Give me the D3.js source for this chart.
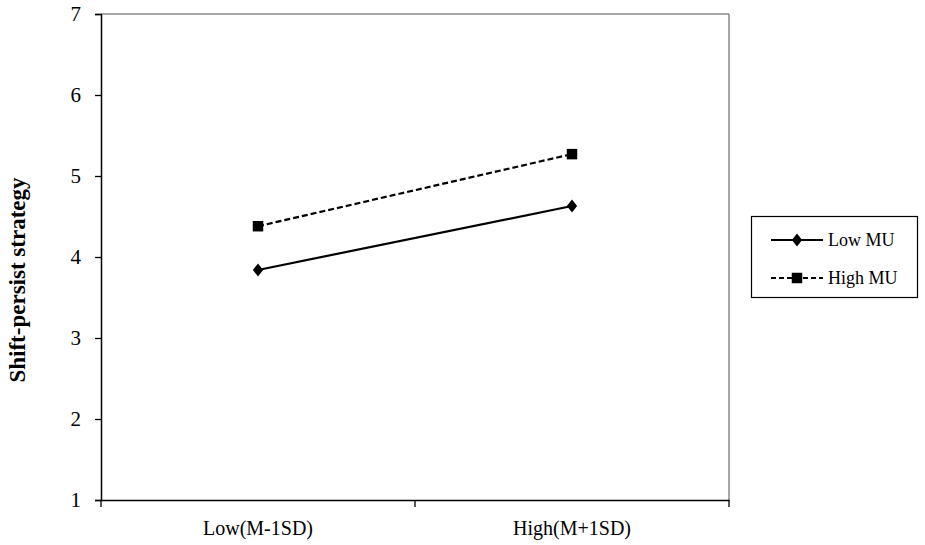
<!DOCTYPE html>
<html><head><meta charset="utf-8">
<script src="https://cdn.jsdelivr.net/npm/d3@7"></script>
<style>body{margin:0;background:#fff;} svg{display:block;} svg text{font-family:"Liberation Serif","Times New Roman",Tinos,"DejaVu Serif",serif !important;}</style>
</head><body>
<script>
const categories = ["Low(M-1SD)", "High(M+1SD)"];
const seriesNames = ["Low MU", "High MU"];
const lowMU = [3.84, 4.63];
const highMU = [4.38, 5.27];
const yTicks = [1, 2, 3, 4, 5, 6, 7];

const W = 925, H = 545;
const m = {left: 101, right: 196, top: 14, bottom: 45};
const svg = d3.select("body").append("svg").attr("width", W).attr("height", H);
const x = d3.scaleBand().domain(categories).range([m.left, W - m.right]);
const y = d3.scaleLinear().domain([1, 7]).range([H - m.bottom, m.top]);

// top/right borders
svg.append("line").attr("x1", m.left).attr("x2", W - m.right).attr("y1", m.top).attr("y2", m.top)
  .attr("stroke", "#8a8a8a").attr("stroke-width", 1.5);
svg.append("line").attr("x1", W - m.right).attr("x2", W - m.right).attr("y1", m.top).attr("y2", H - m.bottom)
  .attr("stroke", "#8a8a8a").attr("stroke-width", 1.5);

// y axis
const ya = svg.append("g").attr("transform", `translate(${m.left},0)`)
  .call(d3.axisLeft(y).tickValues(yTicks).tickFormat(d3.format("d")).tickSize(6).tickPadding(14));
ya.select(".domain").attr("stroke", "#000").attr("stroke-width", 1.5);
ya.selectAll(".tick line").attr("stroke", "#000").attr("stroke-width", 1.3);
ya.selectAll("text").attr("font-size", 21).attr("fill", "#000");

// x axis with boundary ticks
const xa = svg.append("g").attr("transform", `translate(0,${H - m.bottom})`)
  .call(d3.axisBottom(x).tickSize(0).tickPadding(21));
xa.select(".domain").attr("stroke", "#000").attr("stroke-width", 1.5);
xa.selectAll("text").attr("font-size", 20).attr("fill", "#000");
const bounds = [m.left, x(categories[1]), W - m.right];
xa.selectAll(".btick").data(bounds).enter().append("line").attr("class", "btick")
  .attr("x1", d => d).attr("x2", d => d).attr("y1", 0).attr("y2", 7)
  .attr("stroke", "#000").attr("stroke-width", 1.3);

// y title
svg.append("text").attr("transform", `translate(25,280) rotate(-90)`)
  .attr("text-anchor", "middle").attr("font-weight", "bold")
  .attr("font-size", 23).text("Shift-persist strategy");

const cx = d => x(d) + x.bandwidth() / 2;
const line = d3.line().x((d, i) => cx(categories[i])).y(d => y(d));

svg.append("path").datum(lowMU).attr("d", line).attr("fill", "none").attr("stroke", "#000").attr("stroke-width", 2.2);
svg.append("path").datum(highMU).attr("d", line).attr("fill", "none").attr("stroke", "#000").attr("stroke-width", 2.2).attr("stroke-dasharray", "6,3");

const diamond = d3.symbol().type(d3.symbolDiamond).size(50);
const square = d3.symbol().type(d3.symbolSquare).size(110);
svg.selectAll(".dm").data(lowMU).enter().append("path")
  .attr("transform", (d, i) => `translate(${cx(categories[i])},${y(d)}) scale(1.35,1)`).attr("d", diamond).attr("fill", "#000");
svg.selectAll(".sq").data(highMU).enter().append("path")
  .attr("transform", (d, i) => `translate(${cx(categories[i])},${y(d)})`).attr("d", square).attr("fill", "#000");

// legend
const lg = svg.append("g");
lg.append("rect").attr("x", 751.5).attr("y", 216.5).attr("width", 166).attr("height", 81)
  .attr("fill", "#fff").attr("stroke", "#000").attr("stroke-width", 1.2);
const rows = [{name: seriesNames[0], y: 240, dash: null, sym: "d"}, {name: seriesNames[1], y: 278, dash: "5,3", sym: "s"}];
rows.forEach(r => {
  lg.append("line").attr("x1", 771).attr("x2", 823).attr("y1", r.y).attr("y2", r.y)
    .attr("stroke", "#000").attr("stroke-width", 2).attr("stroke-dasharray", r.dash);
  lg.append("path").attr("transform", `translate(797,${r.y})` + (r.sym === "d" ? " scale(1.35,1)" : ""))
    .attr("d", r.sym === "d" ? diamond : square).attr("fill", "#000");
  lg.append("text").attr("x", 828).attr("y", r.y + 6).attr("font-size", 18).text(r.name);
});
</script>
</body></html>
